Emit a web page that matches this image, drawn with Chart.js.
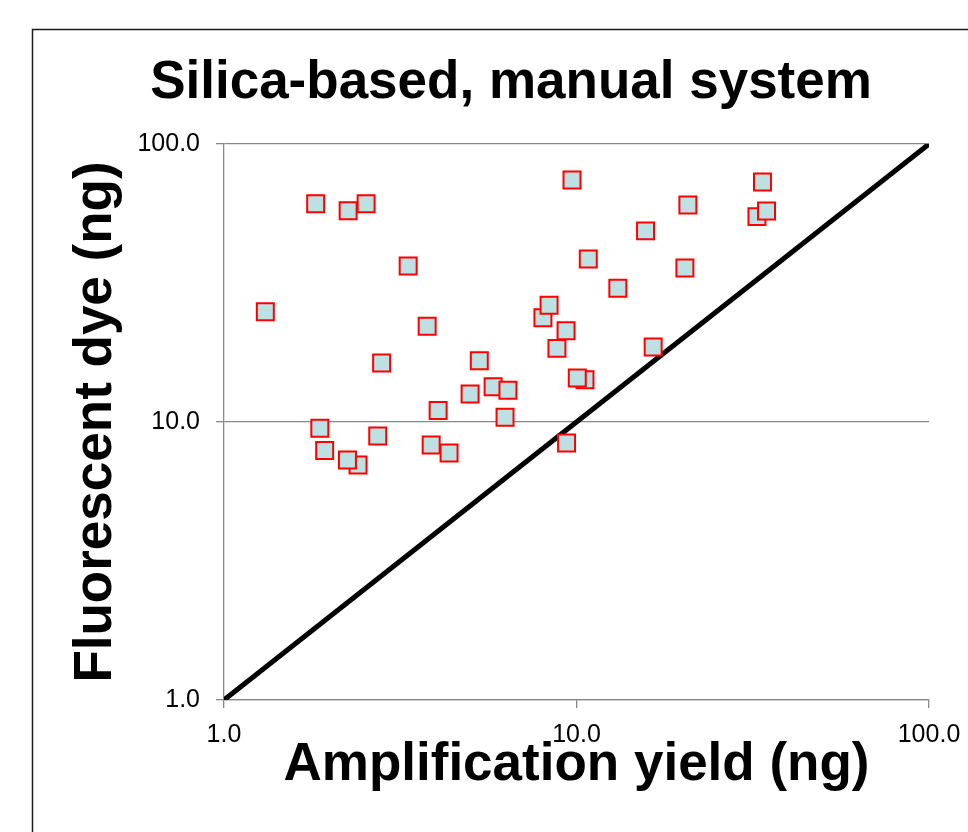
<!DOCTYPE html>
<html><head><meta charset="utf-8">
<script src="https://cdn.jsdelivr.net/npm/chart.js@4"></script>
<style>html,body{margin:0;padding:0;background:#fff}</style>
</head><body>
<canvas id="c" width="968" height="832"></canvas>
<script>
const chartTitle = 'Silica-based, manual system';
const xAxisTitle = 'Amplification yield (ng)';
const yAxisTitle = 'Fluorescent dye (ng)';
const tickValues = [1, 10, 100];
const tickLabels = ['1.0', '10.0', '100.0'];
const amplificationYield = [1.31, 1.82, 2.53, 2.25, 3.33, 3.77, 2.80, 5.30, 4.99, 5.80, 6.39, 6.27, 4.05,
  1.87, 1.93, 2.40, 2.24, 2.73, 3.87, 4.35, 9.71, 10.8, 8.03, 8.36, 9.34, 8.80, 10.57, 10.05, 9.37,
  13.1, 15.7, 16.5, 20.3, 20.7, 33.7, 32.5, 34.6];
const fluorescentDye = [24.9, 61.0, 61.0, 57.5, 36.4, 22.1, 16.3, 16.6, 12.6, 13.4, 13.0, 10.4, 11.0,
  9.5, 7.9, 7.0, 7.3, 8.9, 8.27, 7.74, 74.2, 38.6, 23.7, 26.3, 21.3, 18.4, 14.2, 14.4, 8.4,
  30.3, 48.7, 18.6, 35.8, 60.3, 73.0, 54.8, 57.4];
const parityLineX = [1, 100];
const parityLineY = [1, 100];

const FAMILY = "'Liberation Sans', Arial, sans-serif";

const framePlugin = {
  id: 'frame',
  beforeDraw(chart) {
    const ctx = chart.ctx;
    ctx.save();
    ctx.fillStyle = '#fff';
    ctx.fillRect(0, 0, chart.width, chart.height);
    ctx.strokeStyle = '#1a1a1a';
    ctx.lineWidth = 1.5;
    ctx.beginPath();
    ctx.moveTo(32.5, chart.height);
    ctx.lineTo(32.5, 29.5);
    ctx.lineTo(chart.width, 29.5);
    ctx.stroke();
    ctx.restore();
  }
};

const setTicks = s => { s.ticks = tickValues.map(v => ({ value: v })); };
const tickCb = v => { const i = tickValues.indexOf(v); return i >= 0 ? tickLabels[i] : ''; };

new Chart(document.getElementById('c'), {
  data: {
    datasets: [
      {
        type: 'scatter',
        order: 0,
        data: amplificationYield.map((x, i) => ({ x: x, y: fluorescentDye[i] })),
        pointStyle: 'rect',
        pointRadius: 12,
        pointHoverRadius: 12,
        backgroundColor: '#bde0e3',
        borderColor: '#ff0000',
        borderWidth: 2
      },
      {
        type: 'line',
        order: 1,
        data: parityLineX.map((x, i) => ({ x: x, y: parityLineY[i] })),
        borderColor: '#000',
        borderWidth: 5,
        pointRadius: 0,
        fill: false
      }
    ]
  },
  options: {
    responsive: false,
    devicePixelRatio: 1,
    animation: false,
    layout: { padding: { left: 93, right: 39, top: 0, bottom: 0 } },
    plugins: {
      legend: { display: false },
      tooltip: { enabled: false },
      title: {
        display: true,
        text: chartTitle,
        color: '#000',
        font: { family: FAMILY, size: 53, weight: 'bold' },
        padding: { top: 52, bottom: 28.4 }
      }
    },
    scales: {
      x: {
        type: 'logarithmic',
        position: 'bottom',
        min: 1, max: 100,
        afterBuildTicks: setTicks,
        afterFit: s => { s.height = 132; s.paddingLeft = 0; s.paddingRight = 0; },
        ticks: { callback: tickCb, color: '#000', font: { family: FAMILY, size: 25 }, padding: 12, maxRotation: 0, autoSkip: false },
        grid: { drawOnChartArea: false, drawTicks: true, tickLength: 8, color: '#888', lineWidth: 1.3 },
        border: { color: '#888', width: 1.3 },
        title: { display: true, text: xAxisTitle, color: '#000', font: { family: FAMILY, size: 53, weight: 'bold' }, padding: { top: 0, bottom: 35 } }
      },
      y: {
        type: 'logarithmic',
        position: 'left',
        min: 1, max: 100,
        afterBuildTicks: setTicks,
        afterFit: s => { s.width = 131; },
        ticks: { callback: tickCb, color: '#000', font: { family: FAMILY, size: 25 }, padding: 16, autoSkip: false },
        grid: { drawOnChartArea: true, drawTicks: true, tickLength: 8, color: '#888', lineWidth: 1.3 },
        border: { color: '#888', width: 1.3 },
        title: { display: true, text: yAxisTitle, color: '#000', font: { family: FAMILY, size: 53, weight: 'bold' }, padding: { top: -28, bottom: 0 } }
      }
    }
  },
  plugins: [framePlugin]
});
</script>
</body></html>
